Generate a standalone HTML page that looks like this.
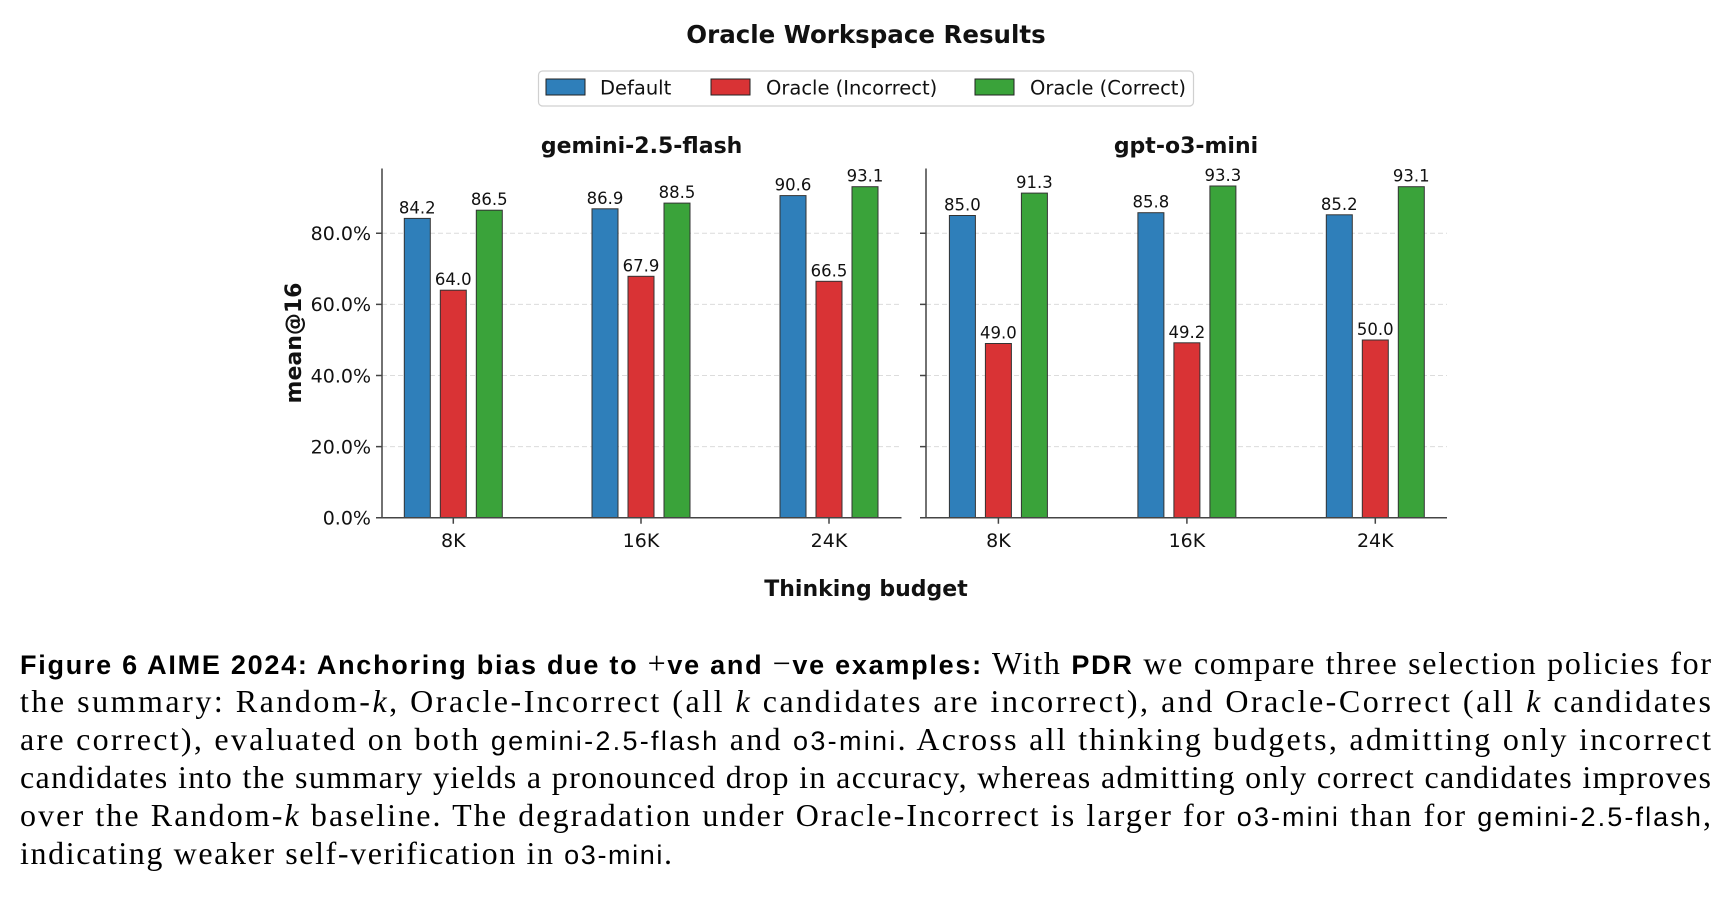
<!DOCTYPE html>
<html><head><meta charset="utf-8"><style>
html,body{margin:0;padding:0;background:#fff;width:1728px;height:898px;overflow:hidden}
svg{display:block}
.t{font-family:"DejaVu Sans","Liberation Sans",sans-serif;fill:#111}
.cap{font-family:"Liberation Serif",serif;font-size:32px;fill:#000}
.cb{font-family:"Liberation Sans",sans-serif;font-weight:bold;font-size:27px}
.cm{font-family:"Liberation Sans",sans-serif;font-size:27px}
</style></head><body>
<svg width="1728" height="898" viewBox="0 0 1728 898">
<text class="t" x="866" y="43" font-size="24.5" font-weight="bold" text-anchor="middle">Oracle Workspace Results</text>
<rect x="538.5" y="71" width="655" height="35" rx="4" fill="#fff" stroke="#d0d0d0" stroke-width="1.2"/>
<rect x="546" y="79" width="39" height="16" fill="#2f7fba" stroke="#222" stroke-width="1"/>
<text class="t" x="600" y="94.5" font-size="19.5">Default</text>
<rect x="711" y="79" width="39" height="16" fill="#d93335" stroke="#222" stroke-width="1"/>
<text class="t" x="766" y="94.5" font-size="19.5">Oracle (Incorrect)</text>
<rect x="975" y="79" width="39" height="16" fill="#3aa33a" stroke="#222" stroke-width="1"/>
<text class="t" x="1030" y="94.5" font-size="19.5">Oracle (Correct)</text>

<text class="t" x="641.6" y="153" font-size="22" font-weight="bold" text-anchor="middle">gemini-2.5-flash</text>
<text class="t" x="1186" y="153" font-size="22" font-weight="bold" text-anchor="middle">gpt-o3-mini</text>

<g stroke="#dcdcdc" stroke-width="1" stroke-dasharray="5,3">
<line x1="382" y1="446.6" x2="901" y2="446.6"/><line x1="382" y1="375.5" x2="901" y2="375.5"/><line x1="382" y1="304.4" x2="901" y2="304.4"/><line x1="382" y1="233.3" x2="901" y2="233.3"/>
<line x1="926" y1="446.6" x2="1447" y2="446.6"/><line x1="926" y1="375.5" x2="1447" y2="375.5"/><line x1="926" y1="304.4" x2="1447" y2="304.4"/><line x1="926" y1="233.3" x2="1447" y2="233.3"/>
</g>

<g stroke="#333" stroke-width="1">
<rect x="404.3" y="218.4" width="26" height="299.3" fill="#2f7fba"/>
<rect x="440.3" y="290.2" width="26" height="227.5" fill="#d93335"/>
<rect x="476.3" y="210.2" width="26" height="307.5" fill="#3aa33a"/>
<rect x="592" y="208.8" width="26" height="308.9" fill="#2f7fba"/>
<rect x="628" y="276.3" width="26" height="241.4" fill="#d93335"/>
<rect x="664" y="203.1" width="26" height="314.6" fill="#3aa33a"/>
<rect x="780" y="195.6" width="26" height="322.1" fill="#2f7fba"/>
<rect x="816" y="281.3" width="26" height="236.4" fill="#d93335"/>
<rect x="852" y="186.7" width="26" height="331" fill="#3aa33a"/>
<rect x="949.4" y="215.5" width="26" height="302.2" fill="#2f7fba"/>
<rect x="985.4" y="343.5" width="26" height="174.2" fill="#d93335"/>
<rect x="1021.4" y="193.1" width="26" height="324.6" fill="#3aa33a"/>
<rect x="1137.9" y="212.7" width="26" height="305" fill="#2f7fba"/>
<rect x="1173.9" y="342.8" width="26" height="174.9" fill="#d93335"/>
<rect x="1209.9" y="186" width="26" height="331.7" fill="#3aa33a"/>
<rect x="1326.3" y="214.8" width="26" height="302.9" fill="#2f7fba"/>
<rect x="1362.3" y="340" width="26" height="177.7" fill="#d93335"/>
<rect x="1398.3" y="186.7" width="26" height="331" fill="#3aa33a"/>
</g>

<g class="t" font-size="16.5" text-anchor="middle">
<text x="417.3" y="213.4">84.2</text><text x="453.3" y="285.2">64.0</text><text x="489.3" y="205.2">86.5</text>
<text x="605" y="203.8">86.9</text><text x="641" y="271.3">67.9</text><text x="677" y="198.1">88.5</text>
<text x="793" y="190.6">90.6</text><text x="829" y="276.3">66.5</text><text x="865" y="181.7">93.1</text>
<text x="962.4" y="210.5">85.0</text><text x="998.4" y="338.5">49.0</text><text x="1034.4" y="188.1">91.3</text>
<text x="1150.9" y="207.7">85.8</text><text x="1186.9" y="337.8">49.2</text><text x="1222.9" y="181">93.3</text>
<text x="1339.3" y="209.8">85.2</text><text x="1375.3" y="335">50.0</text><text x="1411.3" y="181.7">93.1</text>
</g>

<g stroke="#444" stroke-width="1.5" fill="none">
<path d="M382 168.5 V517.7 H901.5"/>
<path d="M926 168.5 V517.7 H1447"/>
<path d="M376 517.7h6M376 446.6h6M376 375.5h6M376 304.4h6M376 233.3h6"/>
<path d="M920 517.7h6M920 446.6h6M920 375.5h6M920 304.4h6M920 233.3h6"/>
<path d="M453.3 517.7v6M641 517.7v6M829 517.7v6M998.4 517.7v6M1186.9 517.7v6M1375.3 517.7v6"/>
</g>

<g class="t" font-size="19" text-anchor="end">
<text x="371" y="524.5">0.0%</text><text x="371" y="453.4">20.0%</text><text x="371" y="382.3">40.0%</text><text x="371" y="311.2">60.0%</text><text x="371" y="240.1">80.0%</text>
</g>
<g class="t" font-size="19" text-anchor="middle">
<text x="453.3" y="547">8K</text><text x="641" y="547">16K</text><text x="829" y="547">24K</text>
<text x="998.4" y="547">8K</text><text x="1186.9" y="547">16K</text><text x="1375.3" y="547">24K</text>
</g>
<text class="t" transform="translate(301,343) rotate(-90)" font-size="22" font-weight="bold" text-anchor="middle">mean@16</text>
<text class="t" x="866" y="596" font-size="22" font-weight="bold" text-anchor="middle">Thinking budget</text>

<text class="cap" x="20" y="674" textLength="1691" lengthAdjust="spacing"><tspan class="cb">Figure 6  AIME 2024: Anchoring bias due to </tspan>+<tspan class="cb">ve and </tspan>−<tspan class="cb">ve examples:</tspan> With <tspan class="cb">PDR</tspan> we compare three selection policies for</text>
<text class="cap" x="20" y="712" textLength="1691" lengthAdjust="spacing">the summary: Random-<tspan font-style="italic">k</tspan>, Oracle-Incorrect (all <tspan font-style="italic">k</tspan> candidates are incorrect), and Oracle-Correct (all <tspan font-style="italic">k</tspan> candidates</text>
<text class="cap" x="20" y="750" textLength="1691" lengthAdjust="spacing">are correct), evaluated on both <tspan class="cm">gemini-2.5-flash</tspan> and <tspan class="cm">o3-mini</tspan>. Across all thinking budgets, admitting only incorrect</text>
<text class="cap" x="20" y="788" textLength="1691" lengthAdjust="spacing">candidates into the summary yields a pronounced drop in accuracy, whereas admitting only correct candidates improves</text>
<text class="cap" x="20" y="826" textLength="1691" lengthAdjust="spacing">over the Random-<tspan font-style="italic">k</tspan> baseline. The degradation under Oracle-Incorrect is larger for <tspan class="cm">o3-mini</tspan> than for <tspan class="cm">gemini-2.5-flash</tspan>,</text>
<text class="cap" x="20" y="864" textLength="652" lengthAdjust="spacing">indicating weaker self-verification in <tspan class="cm">o3-mini</tspan>.</text>
</svg>
</body></html>
